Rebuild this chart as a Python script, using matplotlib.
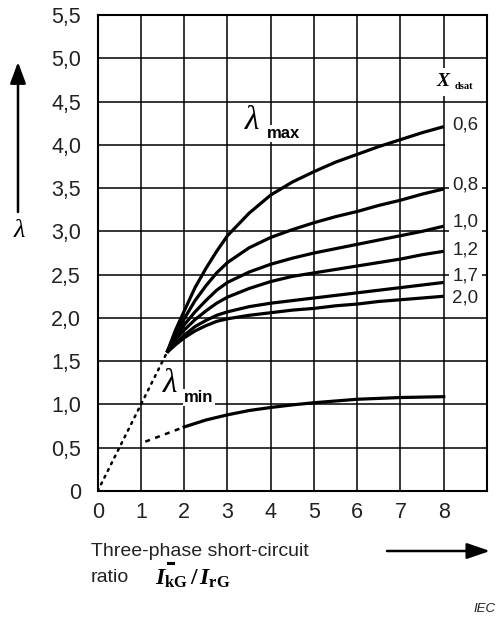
import matplotlib
matplotlib.use("Agg")
import matplotlib.pyplot as plt
from matplotlib.lines import Line2D
from matplotlib.patches import FancyArrowPatch

# --- data -------------------------------------------------------------
x_dsat_labels = ["0,6", "0,8", "1,0", "1,2", "1,7", "2,0"]
x_ratio = [1.6, 1.8, 2.0, 2.25, 2.5, 2.75, 3.0, 3.5, 4.0, 4.5, 5.0,
           5.5, 6.0, 6.5, 7.0, 7.5, 8.0]
lam_max_06 = [1.6, 1.86, 2.08, 2.35, 2.57, 2.77, 2.95, 3.21, 3.42, 3.57, 3.69,
              3.80, 3.89, 3.98, 4.06, 4.14, 4.21]
lam_max_08 = [1.6, 1.82, 1.99, 2.20, 2.37, 2.52, 2.64, 2.81, 2.93, 3.02, 3.10,
              3.17, 3.23, 3.30, 3.36, 3.43, 3.49]
lam_max_10 = [1.6, 1.78, 1.92, 2.07, 2.20, 2.32, 2.41, 2.53, 2.62, 2.69, 2.75,
              2.80, 2.85, 2.90, 2.95, 3.00, 3.06]
lam_max_12 = [1.6, 1.75, 1.86, 1.98, 2.08, 2.17, 2.24, 2.34, 2.42, 2.48, 2.52,
              2.56, 2.60, 2.64, 2.68, 2.73, 2.77]
lam_max_17 = [1.6, 1.71, 1.80, 1.90, 1.97, 2.03, 2.07, 2.13, 2.17, 2.20, 2.23,
              2.26, 2.29, 2.32, 2.35, 2.38, 2.41]
lam_max_20 = [1.6, 1.69, 1.77, 1.85, 1.91, 1.96, 1.99, 2.03, 2.06, 2.09, 2.11,
              2.14, 2.16, 2.19, 2.21, 2.23, 2.25]
lam_max_curves = [lam_max_06, lam_max_08, lam_max_10, lam_max_12, lam_max_17, lam_max_20]
label_y = [4.23, 3.53, 3.11, 2.78, 2.49, 2.23]

# extrapolated part through the origin
diag_x = [0.0, 1.6]
diag_y = [0.0, 1.6]

# lambda_min: dashed extension and solid curve
lam_min_dash_x = [1.1, 2.0]
lam_min_dash_y = [0.57, 0.74]
lam_min_x = [2.0, 2.5, 3.0, 3.5, 4.0, 4.5, 5.0, 5.5, 6.0, 6.5, 7.0, 7.5, 8.0]
lam_min_y = [0.74, 0.82, 0.88, 0.93, 0.965, 0.995, 1.02, 1.04, 1.06, 1.07,
             1.08, 1.085, 1.09]

x_ticks = [0, 1, 2, 3, 4, 5, 6, 7, 8]
y_ticks = [0, 0.5, 1.0, 1.5, 2.0, 2.5, 3.0, 3.5, 4.0, 4.5, 5.0, 5.5]
y_tick_labels = ["0", "0,5", "1,0", "1,5", "2,0", "2,5", "3,0", "3,5",
                 "4,0", "4,5", "5,0", "5,5"]

# --- figure -----------------------------------------------------------
SANS = ["Liberation Sans", "DejaVu Sans"]
SERIF = ["Liberation Serif", "DejaVu Serif"]
plt.rcParams["font.family"] = SANS
plt.rcParams["mathtext.fontset"] = "custom"
plt.rcParams["mathtext.it"] = "Liberation Serif:italic:bold"
plt.rcParams["mathtext.rm"] = "Liberation Serif:bold"

W, H = 497, 618
fig = plt.figure(figsize=(W / 100, H / 100), dpi=100)
ax = fig.add_axes([97.7 / W, 1 - 491 / H, (487 - 97.7) / W, (491 - 15) / H])
ax.set_xlim(0, 9)
ax.set_ylim(0, 5.5)

# grid
for gx in range(1, 9):
    ax.axvline(gx, color="black", lw=1.1, zorder=1)
for gy in y_ticks[1:-1]:
    ax.axhline(gy, color="black", lw=1.1, zorder=1)
for s in ax.spines.values():
    s.set_linewidth(1.5)

ax.set_xticks(x_ticks)
ax.set_yticks(y_ticks)
ax.set_yticklabels(y_tick_labels)
ax.tick_params(length=0, labelsize=15.5, colors="#222222")
ax.tick_params(axis="x", pad=8)
ax.tick_params(axis="y", pad=12)

# curves
for ys in lam_max_curves:
    ax.plot(x_ratio, ys, color="black", lw=2.3, solid_capstyle="butt",
            solid_joinstyle="round", zorder=4)
ax.plot(diag_x, diag_y, color="black", lw=1.8, ls=(0, (0.8, 2.2)),
        dash_capstyle="round", zorder=4)
ax.plot(lam_min_dash_x, lam_min_dash_y, color="black", lw=1.8, ls=(0, (2.0, 2.2)),
        zorder=4)
ax.plot(lam_min_x, lam_min_y, color="black", lw=2.3, solid_joinstyle="round", zorder=4)

# curve labels in the right column
box = dict(facecolor="white", edgecolor="none", pad=2.5)
for lab, ly in zip(x_dsat_labels, label_y):
    ax.text(8.5, ly, lab, fontsize=13.5, ha="center", va="center",
            color="#222222", bbox=box, zorder=3)
ax.add_patch(plt.Rectangle((8.02, 3.68), 0.96, 0.78, facecolor="white",
                           edgecolor="none", zorder=2))

# x_dsat heading
ax.text(7.99, 4.73, "X", fontsize=14, fontfamily=SERIF, fontstyle="italic",
        fontweight="bold", ha="center", va="center", zorder=3,
        bbox=dict(facecolor="white", edgecolor="none", pad=4))
ax.text(8.47, 4.67, "dsat", fontsize=7.5, fontfamily=SERIF, fontweight="bold",
        ha="center", va="center", zorder=3)

# lambda_max / lambda_min labels
ax.text(3.4, 4.28, "λ", fontsize=24, fontfamily=SERIF, fontstyle="italic",
        ha="left", va="center", zorder=3,
        bbox=dict(facecolor="white", edgecolor="none", pad=1))
ax.text(3.9, 4.13, "max", fontsize=12, fontweight="bold", ha="left",
        va="center", zorder=3, bbox=dict(facecolor="white", edgecolor="none", pad=1))
ax.text(1.5, 1.24, "λ", fontsize=24, fontfamily=SERIF, fontstyle="italic",
        ha="left", va="center", zorder=3,
        bbox=dict(facecolor="white", edgecolor="none", pad=1))
ax.text(2.0, 1.08, "min", fontsize=12, fontweight="bold", ha="left",
        va="center", zorder=3, bbox=dict(facecolor="white", edgecolor="none", pad=1))

# y axis title with arrow
fig.text(19 / W, 1 - 231 / H, "λ", fontsize=19, fontfamily=SERIF,
         fontstyle="italic", ha="center", va="center")
fig.patches.append(FancyArrowPatch((18 / W, 1 - 212 / H), (18 / W, 1 - 62 / H),
                                   transform=fig.transFigure,
                                   arrowstyle="-|>,head_length=13,head_width=4.8",
                                   color="black", lw=1.8, mutation_scale=1,
                                   shrinkA=0, shrinkB=0))

# x axis title with arrow
fig.text(91 / W, 1 - 551 / H, "Three-phase short-circuit", fontsize=14,
         ha="left", va="center", color="#222222")
fig.text(91 / W, 1 - 578 / H, "ratio", fontsize=14, ha="left", va="center",
         color="#222222")
fig.text(155 / W, 1 - 579 / H, r"$I_{\mathrm{kG}}\,/\,I_{\mathrm{rG}}$",
         fontsize=17, ha="left", va="center")
fig.add_artist(Line2D([168 / W, 173 / W], [1 - 563 / H, 1 - 563 / H],
                      transform=fig.transFigure, color="black", lw=2.2))
fig.patches.append(FancyArrowPatch((387 / W, 1 - 551 / H), (490 / W, 1 - 551 / H),
                                   transform=fig.transFigure,
                                   arrowstyle="-|>,head_length=14,head_width=4.8",
                                   color="black", lw=1.8, mutation_scale=1,
                                   shrinkA=0, shrinkB=0))

fig.text(496 / W, 1 - 609 / H, "IEC", fontsize=9.5, fontstyle="italic",
         ha="right", va="center", color="#222222")

fig.savefig("out.png", dpi=100, facecolor="white")
